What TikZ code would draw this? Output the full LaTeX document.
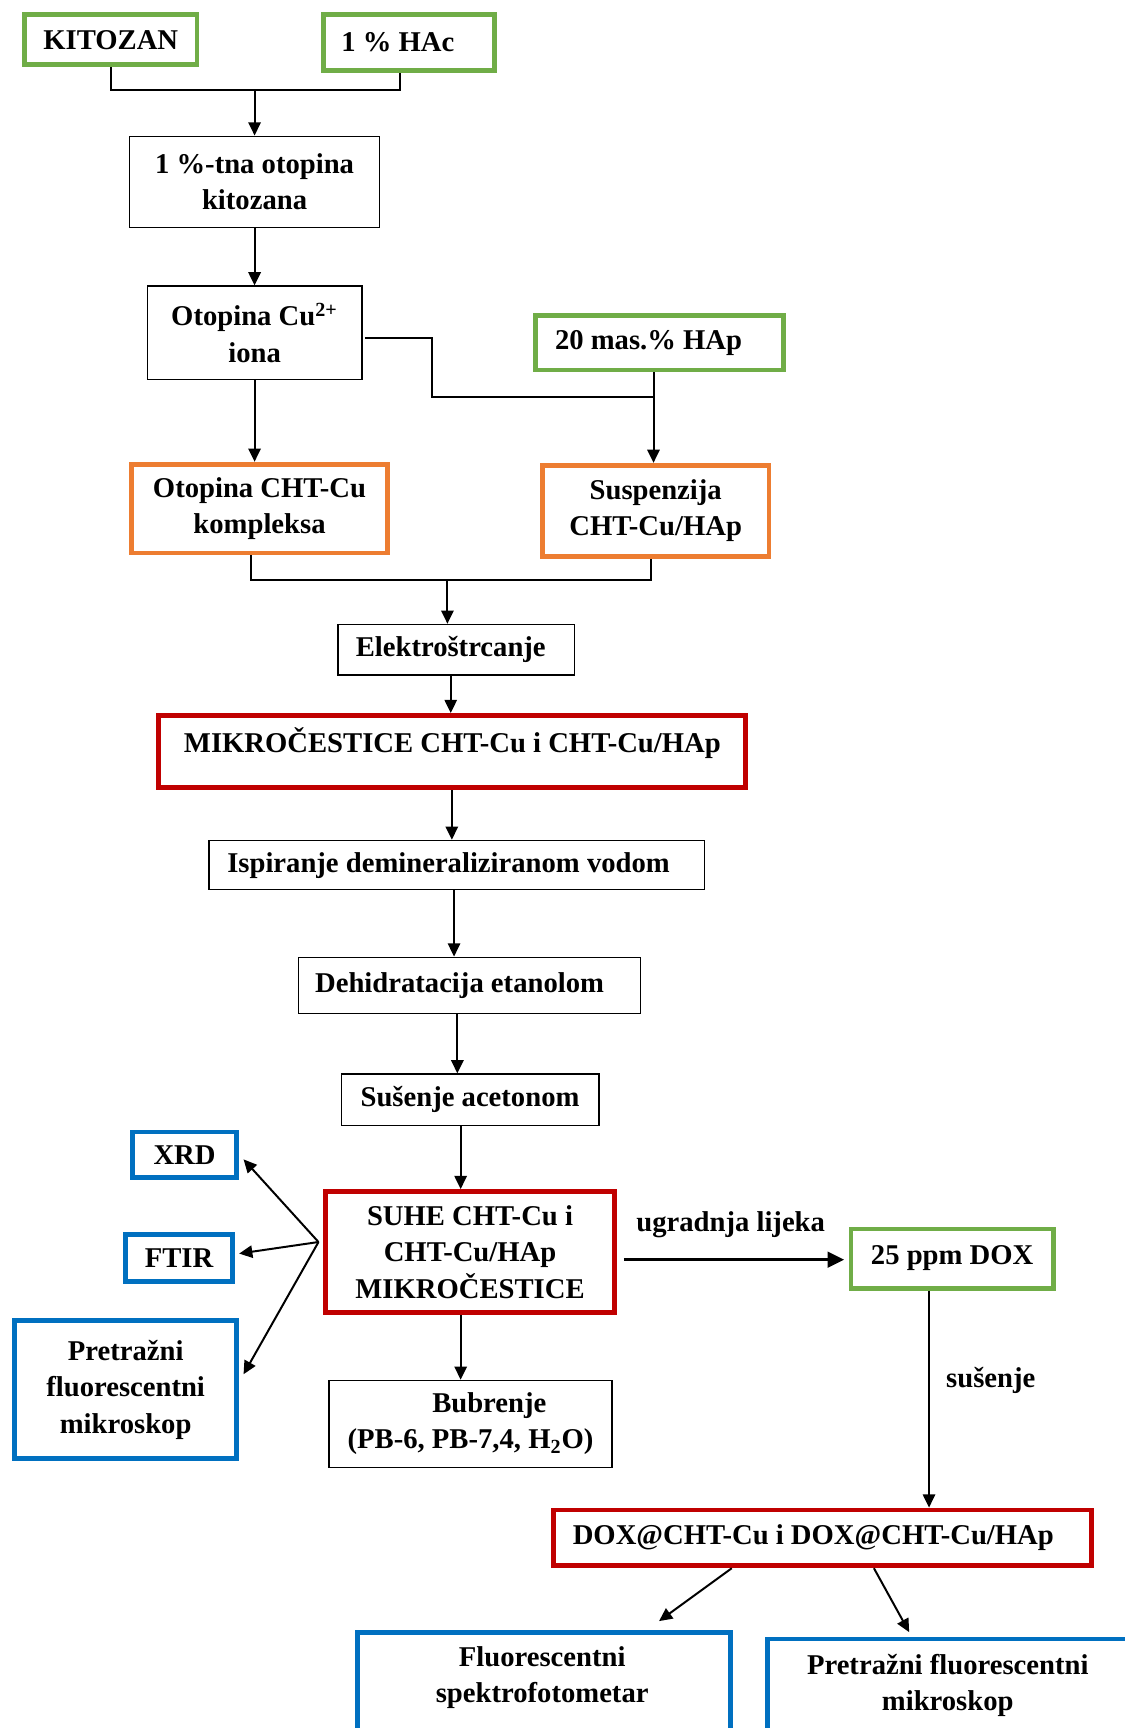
\documentclass[tikz,border=0pt]{standalone}
\usepackage{fontspec}
\setmainfont{Liberation Serif}
\usetikzlibrary{arrows.meta,calc}
\definecolor{cgreen}{HTML}{70AD47}
\definecolor{corange}{HTML}{ED7D31}
\definecolor{cred}{HTML}{C00000}
\definecolor{cblue}{HTML}{0070C0}
\begin{document}
\begin{tikzpicture}[x=0.5pt,y=-0.5pt,
  txt/.style={font=\fontsize{13}{16.5}\selectfont\bfseries, align=center, inner sep=0pt},
  thinbox/.style={txt, draw=black, line width=0.6pt},
  gbox/.style={txt, draw=cgreen, line width=2.2pt},
  obox/.style={txt, draw=corange, line width=2.2pt},
  rbox/.style={txt, draw=cred, line width=2.2pt},
  bbox/.style={txt, draw=cblue, line width=2.2pt},
  ln/.style={line width=1pt},
  arr/.style={line width=0.9pt, -{Triangle[length=6pt,width=5.6pt]}},
  bigarr/.style={line width=1.4pt, -{Triangle[length=7.5pt,width=7pt]}}]
\useasboundingbox (0,0) rectangle (1020,1568);

% nodes
\node[gbox, minimum width=78.3pt, minimum height=22.8pt] (kit) at (100.5,36) {KITOZAN};
\node[gbox, minimum width=77.8pt, minimum height=25.3pt] (hac) at (371,38.5) {1 \% HAc\hspace*{10pt}};
\node[thinbox, minimum width=113.4pt, minimum height=41.4pt] (otk) at (231,165) {1 \%-tna otopina\\kitozana};
\node[thinbox, minimum width=97.4pt, minimum height=42.4pt] (cu) at (231,302) {Otopina Cu\textsuperscript{2+}\\iona};
\node[gbox, minimum width=112.3pt, minimum height=24.8pt] (hap) at (598.5,311) {20 mas.\% HAp\hspace*{10pt}};
\node[obox, minimum width=116.3pt, minimum height=40.3pt] (kompl) at (235.5,461.5) {Otopina CHT-Cu\\kompleksa};
\node[obox, minimum width=102.8pt, minimum height=41.3pt] (susp) at (595,463.5) {Suspenzija\\CHT-Cu/HAp};
\node[thinbox, minimum width=107.4pt, minimum height=22.9pt] (elek) at (414,589.5) {Elektroštrcanje\hspace*{5pt}};
\node[rbox, minimum width=266.3pt, minimum height=32.8pt, text height=10pt, text depth=9.4pt] (mikro) at (410.5,682) {MIKROČESTICE CHT-Cu i CHT-Cu/HAp};
\node[thinbox, minimum width=224.9pt, minimum height=22.4pt] (isp) at (414.5,785) {Ispiranje demineraliziranom vodom\hspace*{7.5pt}};
\node[thinbox, minimum width=155.4pt, minimum height=25.4pt] (deh) at (426,894) {Dehidratacija etanolom\hspace*{9pt}};
\node[thinbox, minimum width=116.9pt, minimum height=23.4pt] (sus) at (426.5,998) {Sušenje acetonom};
\node[rbox, minimum width=131.3pt, minimum height=54.8pt] (suhe) at (426.5,1136) {SUHE CHT-Cu i\\CHT-Cu/HAp\\MIKROČESTICE};
\node[bbox, minimum width=47.3pt, minimum height=20.8pt] (xrd) at (167.5,1048) {XRD};
\node[bbox, minimum width=48.3pt, minimum height=21.3pt] (ftir) at (162.5,1141.5) {FTIR};
\node[bbox, minimum width=100.8pt, minimum height=62.8pt] (pfm) at (114,1261) {Pretražni\\fluorescentni\\mikroskop};
\node[thinbox, minimum width=128.4pt, minimum height=39.4pt] (bub) at (427,1292) {\hspace*{17pt}Bubrenje\\(PB-6, PB-7,4, H\textsubscript{2}O)};
\node[gbox, minimum width=91.8pt, minimum height=26.8pt] (dox) at (864,1142) {25 ppm DOX};
\node[rbox, minimum width=244.3pt, minimum height=25.3pt] (doxc) at (746.5,1395.5) {DOX@CHT-Cu i DOX@CHT-Cu/HAp\hspace*{8.5pt}};
\node[bbox, minimum width=169.3pt, minimum height=78.3pt] (fs) at (493.5,1559.5) {};
\node[txt] (fst) at (492,1522.5) {Fluorescentni\\spektrofotometar};
\node[bbox, minimum width=172.8pt, minimum height=75.3pt] (pfm2) at (869,1562.5) {};
\node[txt] (pfmt) at (860,1529.5) {Pretražni fluorescentni\\mikroskop};

\node[txt] (ugr) at (663,1111) {ugradnja lijeka};
\node[txt] (susl) at (899,1253) {sušenje};

% helper coordinates
\coordinate (j1) at (231,82);
\coordinate (hx) at (363,0);
\coordinate (j2) at (392,360);
\coordinate (hx2) at (593,0);
\coordinate (j3) at (406,526);
\coordinate (kx) at (228,0);
\coordinate (sx) at (591,0);
\coordinate (c1) at (409,0);
\coordinate (c2) at (410,0);
\coordinate (c3) at (412,0);
\coordinate (c4) at (415,0);
\coordinate (c5) at (418,0);
\coordinate (dx) at (843,0);
\coordinate (s0) at ($(suhe.west)+(-4,-9)$);

% connectors
\draw[ln] (kit.south) |- (j1) -| (hac.south -| hx);
\draw[arr] (j1) -- (otk.north);
\draw[arr] (otk.south) -- (cu.north);
\draw[arr] (cu.south) -- (cu.south |- kompl.north);
\draw[ln] ($(cu.east)+(2,5)$) -| (j2) -- (j2 -| hx2);
\draw[arr] (hap.south -| hx2) -- (susp.north -| hx2);
\draw[ln] (kompl.south -| kx) |- (j3) -| (susp.south -| sx);
\draw[arr] (j3) -- (j3 |- elek.north);
\draw[arr] (elek.south -| c1) -- (mikro.north -| c1);
\draw[arr] (mikro.south -| c2) -- (isp.north -| c2);
\draw[arr] (isp.south -| c3) -- (deh.north -| c3);
\draw[arr] (deh.south -| c4) -- (sus.north -| c4);
\draw[arr] (sus.south -| c5) -- (suhe.north -| c5);
\draw[arr] (suhe.south -| c5) -- (bub.north -| c5);
\draw[arr] (s0) -- ($(xrd.east)+(4,4)$);
\draw[arr] (s0) -- ($(ftir.east)+(4,-4)$);
\draw[arr] (s0) -- ($(pfm.east)+(4,-14)$);
\draw[bigarr] ($(suhe.east)+(6,7)$) -- ($(dox.west)+(-4,1)$);
\draw[arr] (dox.south -| dx) -- (doxc.north -| dx);
\draw[arr] ($(doxc.south)+(-82.5,0)$) -- ($(fs.north)+(104.5,-8)$);
\draw[arr] ($(doxc.south)+(46.5,0)$) -- ($(pfm2.north)+(-44,-4)$);
\end{tikzpicture}
\end{document}
